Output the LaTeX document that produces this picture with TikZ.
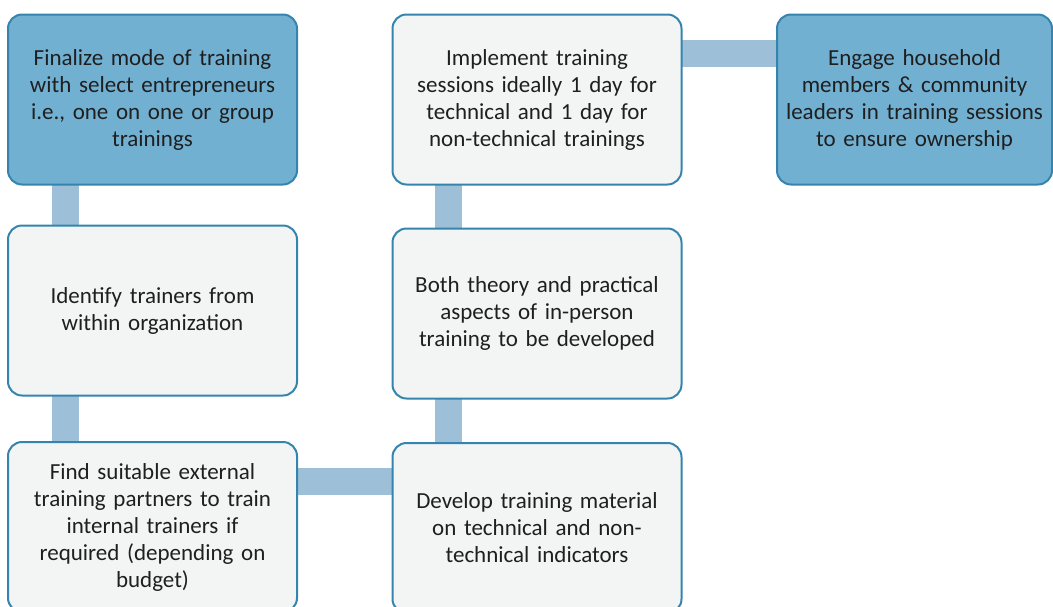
\documentclass[tikz,border=0pt]{standalone}
\usepackage{fontspec}
\setmainfont{Carlito}
\usetikzlibrary{backgrounds}
\definecolor{stepblue}{HTML}{72B0D2}
\definecolor{steplight}{HTML}{F3F5F5}
\definecolor{stepedge}{HTML}{3484AE}
\definecolor{linkblue}{HTML}{9DC0D8}
\definecolor{steptext}{HTML}{1F1F1F}
\begin{document}
\begin{tikzpicture}[x=1pt,y=-1pt,
		stepbox/.style={draw=stepedge, line width=2pt, rounded corners=14pt, fill=steplight,
			minimum width=289pt, minimum height=170pt, text width=280pt, align=center,
			inner sep=0pt, text=steptext, font=\fontsize{23}{27}\selectfont},
		keybox/.style={stepbox, fill=stepblue},
		link/.style={draw=linkblue, line width=27pt}]
		\useasboundingbox (0,0) rectangle (1053,606);
		\clip (0,0) rectangle (1053,606);
		\node[keybox] (fin) at (152.5,99.5) {Finalize mode of training\\ with select entrepreneurs\\ i.e., one on one or group\\ trainings};
		\node[stepbox] (ident) at (152.5,310.5) {Identify trainers from\\ within organization};
		\node[stepbox] (find) at (152.5,527) {Find suitable external\\ training partners to train\\ internal trainers if\\ required (depending on\\ budget)};
		\node[stepbox] (dev) at (537,528) {Develop training material\\ on technical and non-\\ technical indicators};
		\node[stepbox] (both) at (537,313.5) {Both theory and practical\\ aspects of in-person\\ training to be developed};
		\node[stepbox] (impl) at (537,99.5) {Implement training\\ sessions ideally 1 day for\\ technical and 1 day for\\ non-technical trainings};
		\node[keybox, minimum width=275pt, text width=272pt] (eng) at (914.5,99.5) {Engage household\\ members \& community\\ leaders in training sessions\\ to ensure ownership};
		\begin{scope}[on background layer]
			\draw[link] ([xshift=-87pt]fin.center) -- ([xshift=-87pt]ident.center);
			\draw[link] ([xshift=-87pt]ident.center) -- ([xshift=-87pt]find.center);
			\draw[link] ([yshift=45.5pt]find.center) -- ([yshift=45.5pt]find.center -| dev.center);
			\draw[link] ([xshift=-88.5pt]dev.center) -- ([xshift=-88.5pt]both.center);
			\draw[link] ([xshift=-88.5pt]both.center) -- ([xshift=-88.5pt]impl.center);
			\draw[link] ([yshift=46pt]impl.center) -- ([yshift=46pt]impl.center -| eng.center);
		\end{scope}
	\end{tikzpicture}
\end{document}
